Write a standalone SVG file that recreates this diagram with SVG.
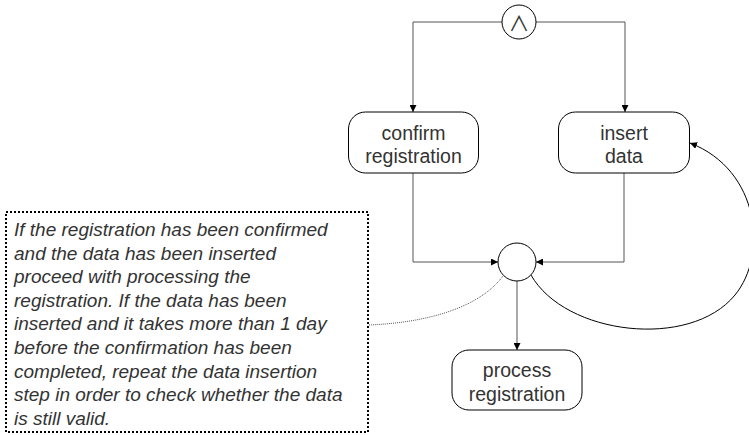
<svg xmlns="http://www.w3.org/2000/svg" width="749" height="435" viewBox="0 0 749 435">
  <style>
    .node { fill: #ffffff; stroke: #000000; stroke-width: 1; }
    .label { font-family: "Liberation Sans", Arial, sans-serif; font-size: 19.5px; fill: #333333; text-anchor: middle; }
    .symbol { font-family: "Noto Sans CJK JP", "DejaVu Sans", sans-serif; font-size: 21px; font-weight: 400; fill: #333333; text-anchor: middle; }
    .edge { fill: none; stroke: #555555; stroke-width: 1; }
    .curve { fill: none; stroke: #000000; stroke-width: 1; }
    .note-text { font-family: "Liberation Sans", Arial, sans-serif; font-size: 19px; font-style: italic; fill: #333333; }
  </style>
  <defs>
    <marker id="arrow" viewBox="0 0 10 10" refX="10" refY="5" markerWidth="7" markerHeight="7" orient="auto" markerUnits="userSpaceOnUse">
      <path d="M0,0 L10,5 L0,10 Z" fill="#000000"/>
    </marker>
  </defs>

  <g id="connectors">
    <path class="edge" d="M502,22 H413 V112" marker-end="url(#arrow)"/>
    <path class="edge" d="M536,22 H625 V112" marker-end="url(#arrow)"/>
    <path class="edge" d="M413,173 V262 H498" marker-end="url(#arrow)"/>
    <path class="edge" d="M624,173 V262 H536" marker-end="url(#arrow)"/>
    <path class="edge" d="M517,281 V350" marker-end="url(#arrow)"/>
    <path class="curve" d="M531,275 C565,335 690,350 735,295 C768,255 760,170 690,143" marker-end="url(#arrow)"/>
    <path class="edge" d="M369,325 C440,322 484,302 503,276" stroke-dasharray="1,1"/>
  </g>

  <g id="and-split">
    <circle class="node" cx="519" cy="22" r="17"/>
    <text class="symbol" x="519" y="31">∧</text>
  </g>

  <g id="confirm-registration">
    <rect class="node" x="348.5" y="112" width="130" height="61" rx="17"/>
    <text class="label" x="413.5" y="140">confirm</text>
    <text class="label" x="413.5" y="163">registration</text>
  </g>

  <g id="insert-data">
    <rect class="node" x="558.5" y="112" width="131" height="61" rx="17"/>
    <text class="label" x="624" y="140">insert</text>
    <text class="label" x="624" y="163">data</text>
  </g>

  <g id="join">
    <circle class="node" cx="517" cy="262" r="19"/>
  </g>

  <g id="process-registration">
    <rect class="node" x="452" y="350" width="130" height="60" rx="17"/>
    <text class="label" x="517" y="377">process</text>
    <text class="label" x="517" y="401">registration</text>
  </g>

  <g id="note">
    <rect x="6" y="212" width="362" height="220" fill="#ffffff" stroke="#000000" stroke-width="2" stroke-dasharray="2,2"/>
    <text class="note-text" x="14" y="236">If the registration has been confirmed</text>
    <text class="note-text" x="14" y="260">and the data has been inserted</text>
    <text class="note-text" x="14" y="283">proceed with processing the</text>
    <text class="note-text" x="14" y="307">registration. If the data has been</text>
    <text class="note-text" x="14" y="330">inserted and it takes more than 1 day</text>
    <text class="note-text" x="14" y="354">before the confirmation has been</text>
    <text class="note-text" x="14" y="378">completed, repeat the data insertion</text>
    <text class="note-text" x="14" y="401">step in order to check whether the data</text>
    <text class="note-text" x="14" y="425">is still valid.</text>
  </g>
</svg>
